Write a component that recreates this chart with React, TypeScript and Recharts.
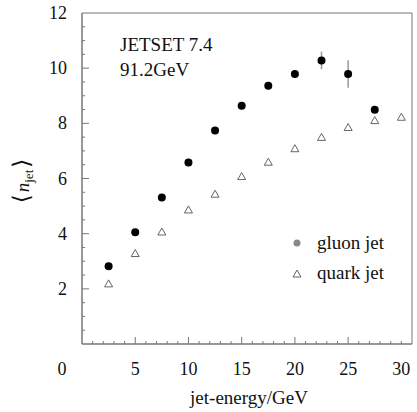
import React from 'react';
import { ScatterChart, Scatter, XAxis, YAxis, ErrorBar, ReferenceArea } from 'recharts';

const energies = [2.5, 5, 7.5, 10, 12.5, 15, 17.5, 20, 22.5, 25, 27.5, 30];
const gluonN = [2.82, 4.05, 5.31, 6.58, 7.74, 8.64, 9.36, 9.79, 10.28, 9.79, 8.49];
const gluonErr = [0, 0, 0, 0, 0, 0, 0, 0, 0.32, 0.5, 0];
const quarkN = [2.18, 3.28, 4.06, 4.86, 5.43, 6.07, 6.59, 7.08, 7.49, 7.85, 8.1, 8.22];

const xTicks = [0, 1, 2, 3, 4, 5, 6, 7, 8, 9, 10, 11, 12, 13, 14, 15, 16, 17, 18, 19, 20, 21, 22, 23, 24, 25, 26, 27, 28, 29, 30];
const yTicks = [0, 0.5, 1, 1.5, 2, 2.5, 3, 3.5, 4, 4.5, 5, 5.5, 6, 6.5, 7, 7.5, 8, 8.5, 9, 9.5, 10, 10.5, 11, 11.5, 12];

const gluon = gluonN.map((n, i) => ({ e: energies[i], n, err: gluonErr[i] }));
const quark = quarkN.map((n, i) => ({ e: energies[i], n }));

const FONT = "'Liberation Serif', 'DejaVu Serif', serif";
const AXIS = '#777';
const txt = { fontFamily: FONT };

const renderXTick = (props: any) => {
  const { x, y, payload } = props;
  const v = payload.value;
  const major = v % 5 === 0 && v > 0 && v < 30;
  const labelled = v % 5 === 0;
  return (
    <g key={`xt-${v}`}>
      {v > 0 && <line x1={x} x2={x} y1={y} y2={y - (major ? 7 : 3)} stroke={AXIS} />}
      {labelled && (
        <text x={v === 0 ? x - 20 : x} y={y + 31} textAnchor="middle" fontSize={18} style={txt} fill="#111">
          {v}
        </text>
      )}
    </g>
  );
};

const renderYTick = (props: any) => {
  const { x, y, payload } = props;
  const v = payload.value;
  const ax = x + 15;
  const major = v % 2 === 0;
  return (
    <g key={`yt-${v}`}>
      {v > 0 && v < 12 && <line x1={ax} x2={ax + (major ? 7 : 3)} y1={y} y2={y} stroke={AXIS} />}
      {major && v > 0 && (
        <text x={x} y={y} dy={6} textAnchor="end" fontSize={18} style={txt} fill="#111">
          {v}
        </text>
      )}
    </g>
  );
};

const Dot = (props: any) => <circle cx={props.cx} cy={props.cy} r={4} fill="#000" />;

const Tri = (props: any) => {
  const { cx, cy } = props;
  return (
    <path
      d={`M${cx},${cy - 4} L${cx + 4},${cy + 3} L${cx - 4},${cy + 3} Z`}
      fill="#fff"
      stroke="#555"
      strokeWidth={0.9}
    />
  );
};

export default function App() {
  return (
    <div style={{ position: 'absolute', left: 0, top: 0, width: 417, height: 412, background: '#fff', fontFamily: FONT }}>
      <ScatterChart width={417} height={412} margin={{ top: 13, right: 5, bottom: 0, left: 0 }}>
        <XAxis
          type="number"
          dataKey="e"
          domain={[0, 31]}
          ticks={xTicks}
          interval={0}
          height={68}
          tickSize={0}
          tickMargin={0}
          tickLine={false}
          axisLine={{ stroke: AXIS }}
          tick={renderXTick}
          allowDataOverflow
        />
        <YAxis
          type="number"
          dataKey="n"
          domain={[0, 12]}
          ticks={yTicks}
          interval={0}
          width={82}
          tickSize={0}
          tickMargin={15}
          tickLine={false}
          axisLine={{ stroke: AXIS }}
          tick={renderYTick}
          allowDataOverflow
        />
        <ReferenceArea x1={0} x2={31} y1={0} y2={12} fill="none" stroke={AXIS} ifOverflow="visible" />
        <Scatter data={quark} shape={<Tri />} isAnimationActive={false} />
        <Scatter data={gluon} shape={<Dot />} isAnimationActive={false}>
          <ErrorBar dataKey="err" direction="y" width={0} stroke="#999" strokeWidth={1.5} />
        </Scatter>
        <text x={120} y={51} fontSize={19} style={txt} fill="#111">JETSET 7.4</text>
        <text x={120} y={76} fontSize={19} style={txt} fill="#111">91.2GeV</text>
        <circle cx={297} cy={243} r={3.5} fill="#888" />
        <text x={317} y={249} fontSize={19} style={txt} fill="#111">gluon jet</text>
        <path d="M297,270 L301,277 L293,277 Z" fill="#fff" stroke="#555" strokeWidth={0.9} />
        <text x={317} y={279} fontSize={19} style={txt} fill="#111">quark jet</text>
        <text x={249} y={404} textAnchor="middle" fontSize={19} style={txt} fill="#111">jet-energy/GeV</text>
        <text transform="translate(29,181) rotate(-90)" textAnchor="middle" fontSize={19} style={txt} fill="#111">
          <tspan fontSize={23}>⟨</tspan>
          <tspan fontStyle="italic" dx={2}>n</tspan>
          <tspan fontSize={13} dy={4}>jet</tspan>
          <tspan fontSize={23} dy={-4} dx={2}>⟩</tspan>
        </text>
      </ScatterChart>
    </div>
  );
}
